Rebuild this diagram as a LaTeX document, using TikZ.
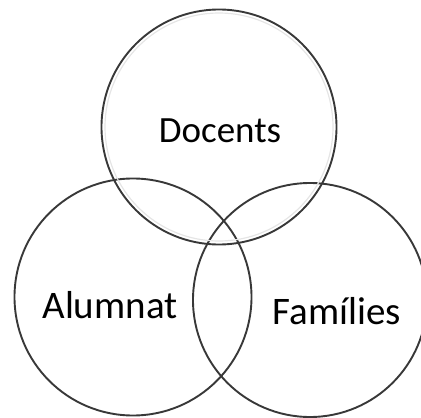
\documentclass[tikz,border=0pt]{standalone}
\usepackage{fontspec}
\setmainfont{Carlito}
\begin{document}
\begin{tikzpicture}[
	x=1pt,
	y=-1pt,
	ring/.style={circle, draw=black!78, line width=1.9pt, inner sep=0pt},
	setname/.style={font=\fontsize{37}{40}\selectfont, text=black}
	]
	\useasboundingbox (0,0) rectangle (421,418);
	\clip (0,0) rectangle (421,418);

	% --- the three sets ---
	\node[ring, minimum size=235pt] (docentsring) at (219,127) {};
	\node[ring, minimum size=237pt] (alumnatring) at (133,297) {};
	\node[ring, minimum size=234pt] (familiesring) at (310,300) {};

	% faint inner rim of the top circle
	\draw[black!10, line width=1.2pt] (219,127) circle (114);

	% --- labels ---
	\node[setname] (docents) at (220,131) {Docents};
	\node[setname, font=\fontsize{39}{42}\selectfont] (alumnat) at (110,305) {Alumnat};
	\node[setname, font=\fontsize{39}{42}\selectfont] (families) at (337,311) {Famílies};
\end{tikzpicture}
\end{document}
